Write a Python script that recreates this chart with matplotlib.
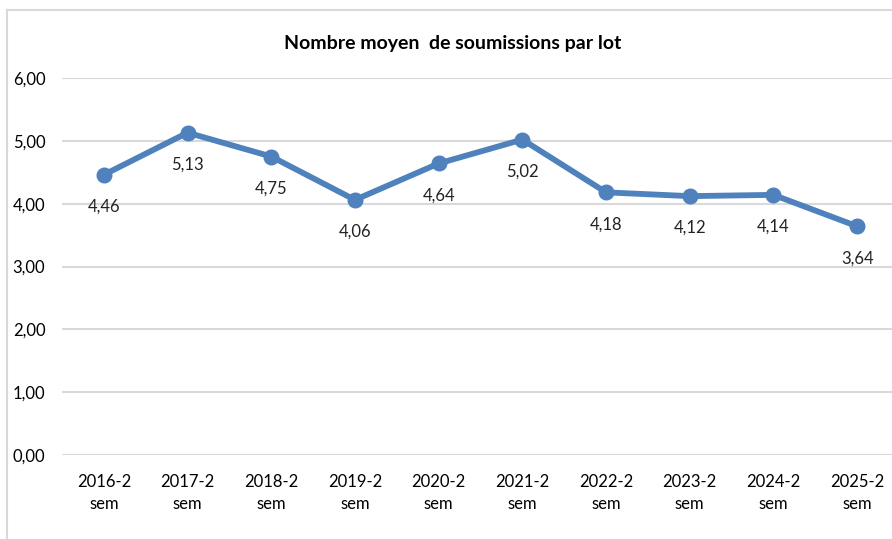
import matplotlib.pyplot as plt
from matplotlib.lines import Line2D

plt.rcParams['font.family'] = ['Lato', 'DejaVu Sans']

# données
periodes = ['2016-2\nsem', '2017-2\nsem', '2018-2\nsem', '2019-2\nsem', '2020-2\nsem',
            '2021-2\nsem', '2022-2\nsem', '2023-2\nsem', '2024-2\nsem', '2025-2\nsem']
moyennes = [4.46, 5.13, 4.75, 4.06, 4.64, 5.02, 4.18, 4.12, 4.14, 3.64]
yticks = [0, 1, 2, 3, 4, 5, 6]

fig = plt.figure(figsize=(8.92, 5.39), dpi=100)
W, H = 892, 539
ax = fig.add_axes([62 / W, 1 - 455 / H, 837 / W, (455 - 78) / H])

x = list(range(len(periodes)))
ax.plot(x, moyennes, color='#4f81bd', linewidth=4.2, marker='o', markersize=10.5,
        solid_capstyle='round', zorder=3)

# étiquettes de valeur sous les points
for i, v in enumerate(moyennes):
    ax.annotate(f'{v:.2f}'.replace('.', ','), (i, v), xytext=(0, -23),
                textcoords='offset points', ha='center', va='center', fontsize=12, color='#222222')

ax.set_xlim(-0.5, len(periodes) - 0.5)
ax.set_ylim(0, 6)
ax.set_yticks(yticks)
ax.set_yticklabels([f'{t:.2f}'.replace('.', ',') for t in yticks], fontsize=12)
ax.set_xticks(x)
ax.set_xticklabels(periodes, fontsize=12, linespacing=1.45)
ax.tick_params(length=0)
ax.tick_params(axis='y', pad=12)
ax.tick_params(axis='x', pad=14)
ax.grid(axis='y', color='#d9d9d9', linewidth=1.5)
ax.set_axisbelow(True)
for s in ax.spines.values():
    s.set_visible(False)

fig.text(453 / W, 1 - 44 / H, 'Nombre moyen  de soumissions par lot', ha='center', va='center',
         fontsize=14, fontweight='bold')

# cadre du graphique
fig.add_artist(Line2D([7 / W, 7 / W], [0, 1 - 10 / H], color='#d9d9d9', linewidth=1.5))
fig.add_artist(Line2D([7 / W, 1], [1 - 10 / H, 1 - 10 / H], color='#d9d9d9', linewidth=1.5))

fig.savefig('out.png', dpi=100)
